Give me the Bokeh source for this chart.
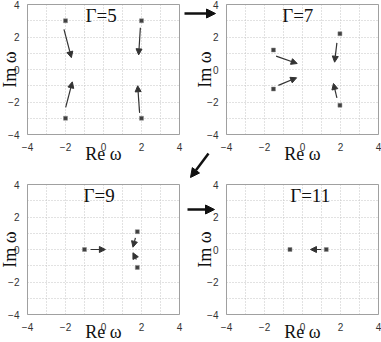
import math
from bokeh.plotting import figure
from bokeh.layouts import row, column
from bokeh.models import (Arrow, NormalHead, FixedTicker, Label, ColumnDataSource,
                          LinearAxis, Grid)
from bokeh.embed import file_html
from bokeh.resources import INLINE

# ---- data ----
gammas = ["Γ=5", "Γ=7", "Γ=9", "Γ=11"]
re_pts = [[-2.0, 2.0, -2.0, 2.0], [-1.53, -1.53, 1.97, 1.97], [-1.0, 1.78, 1.78], [-0.66, 1.25]]
im_pts = [[3.0, 3.0, -3.0, -3.0], [1.2, -1.2, 2.2, -2.2], [0.0, 1.1, -1.1], [0.0, 0.0]]
arr_x0 = [[-2.08, 1.94, -1.99, 1.90], [-1.39, -1.27, 1.81, 1.81], [-0.68, 1.68, 1.73], [0.99]]
arr_y0 = [[2.47, 2.57, -2.33, -2.67], [0.82, -0.98, 1.64, -1.74], [0.0, 0.72, -0.62], [0.0]]
arr_x1 = [[-1.69, 1.85, -1.64, 1.80], [-0.28, -0.31, 1.69, 1.63], [0.10, 1.55, 1.55], [0.42]]
arr_y1 = [[0.73, 0.90, -0.76, -1.00], [0.37, -0.51, 0.45, -0.86], [0.0, 0.14, -0.20], [0.0]]
ticks = [-4, -2, 0, 2, 4]
minor_ticks = [-3, -1, 1, 3]
axis_lo, axis_hi = -4, 4
x_label = "Re ω"
y_label = "Im ω"

# ---- layout geometry (pixels) ----
FW, FH = 152, 130
geoms = [  # canvas width, height; box margins left, right, top, bottom
    (183, 171, 27, 4, 4, 37),
    (198, 179, 43, 3, 4, 45),
    (183, 171, 27, 4, 13, 28),
    (198, 163, 43, 3, 5, 28),
]
ylab_off = [18, 21.5, 18, 21.5]
xlab_off = [19.5, 19.5, 17.5, 17.5]
gam_x = [-0.95, -1.07, -1.05, -0.65]
gam_y = 3.33

SERIF = "Liberation Serif"
SANS = "Liberation Sans"
INK = "#333333"
BOX = "#a0a0a0"
GRID = "#c4c4c4"
SPAN = axis_hi - axis_lo


def px2data(i, cx, cy):
    w, h, L, R, T, B = geoms[i]
    return axis_lo + (cx - L) * SPAN / FW, axis_hi - (cy - T) * SPAN / FH


def make_panel(i):
    w, h, L, R, T, B = geoms[i]
    x0, y_top = px2data(i, 0, 0)
    x1, y_bot = px2data(i, w, h)
    p = figure(width=w, height=h, x_range=(x0, x1), y_range=(y_bot, y_top),
               output_backend="svg", toolbar_location=None,
               x_axis_type=None, y_axis_type=None,
               min_border=0, min_border_left=0, min_border_right=0,
               min_border_top=0, min_border_bottom=0)
    p.background_fill_color = "white"
    p.border_fill_color = "white"
    p.outline_line_color = None

    # dotted grid inside the box
    for dim in (0, 1):
        g = Grid(dimension=dim, ticker=FixedTicker(ticks=ticks, minor_ticks=minor_ticks),
                 grid_line_color=GRID, grid_line_dash="1 2",
                 minor_grid_line_color=GRID, minor_grid_line_dash="1 2")
        g.bounds = (axis_lo, axis_hi)
        if "cross_bounds" in Grid.properties():
            g.cross_bounds = (axis_lo, axis_hi)
        p.add_layout(g, "center")

    # axes pinned to the box edges
    def axis(side, loc, labelled):
        a = LinearAxis(ticker=FixedTicker(ticks=ticks if labelled else [], minor_ticks=[]),
                       fixed_location=loc, bounds=(axis_lo, axis_hi),
                       axis_line_color=BOX, axis_line_width=1,
                       major_tick_line_color=None, minor_tick_line_color=None,
                       major_label_text_font=SANS, major_label_text_font_size="10px",
                       major_label_text_color="#333333", major_label_standoff=2)
        p.add_layout(a, side)

    axis("below", axis_lo, True)
    axis("left", axis_lo, True)
    axis("above", axis_hi, False)
    axis("right", axis_hi, False)

    # axis titles
    lx, ly = px2data(i, L + FW / 2, T + FH + xlab_off[i])
    p.add_layout(Label(x=lx, y=ly, text=x_label, text_font=SERIF, text_font_size="18px",
                       text_align="center", text_baseline="middle", text_color="#111111"))
    lx, ly = px2data(i, L - ylab_off[i], T + FH / 2)
    p.add_layout(Label(x=lx, y=ly, text=y_label, text_font=SERIF, text_font_size="18px",
                       angle=math.pi / 2, text_align="center", text_baseline="middle",
                       text_color="#111111"))

    src = ColumnDataSource(dict(x0=arr_x0[i], y0=arr_y0[i], x1=arr_x1[i], y1=arr_y1[i]))
    p.add_layout(Arrow(end=NormalHead(size=6, fill_color=INK, line_color=INK, line_width=1),
                       x_start="x0", y_start="y0", x_end="x1", y_end="y1", source=src,
                       line_color=INK, line_width=1.2))
    p.scatter(re_pts[i], im_pts[i], marker="square", size=4, fill_color="#404040",
              line_color="#8a8a8a", line_width=0.5)
    p.add_layout(Label(x=gam_x[i], y=gam_y, text=gammas[i], text_font=SERIF,
                       text_font_size="19px", text_align="left", text_baseline="middle",
                       text_color="#111111"))
    return p


def big_arrow(p, i, tail, tip, color="#111111"):
    xa, ya = px2data(i, *tail)
    xb, yb = px2data(i, *tip)
    p.add_layout(Arrow(end=NormalHead(size=9, fill_color=color, line_color=color, line_width=1),
                       x_start=xa, y_start=ya, x_end=xb, y_end=yb,
                       line_color=color, line_width=2.5))


panels = [make_panel(i) for i in range(4)]
big_arrow(panels[1], 1, (1, 13), (32, 13))
big_arrow(panels[1], 1, (25, 153), (7, 177))
big_arrow(panels[3], 3, (4, 30), (31, 30))

layout = row(column(panels[0], panels[2]), column(panels[1], panels[3]))

with open("out.html", "w") as f:
    f.write(file_html(layout, INLINE))
